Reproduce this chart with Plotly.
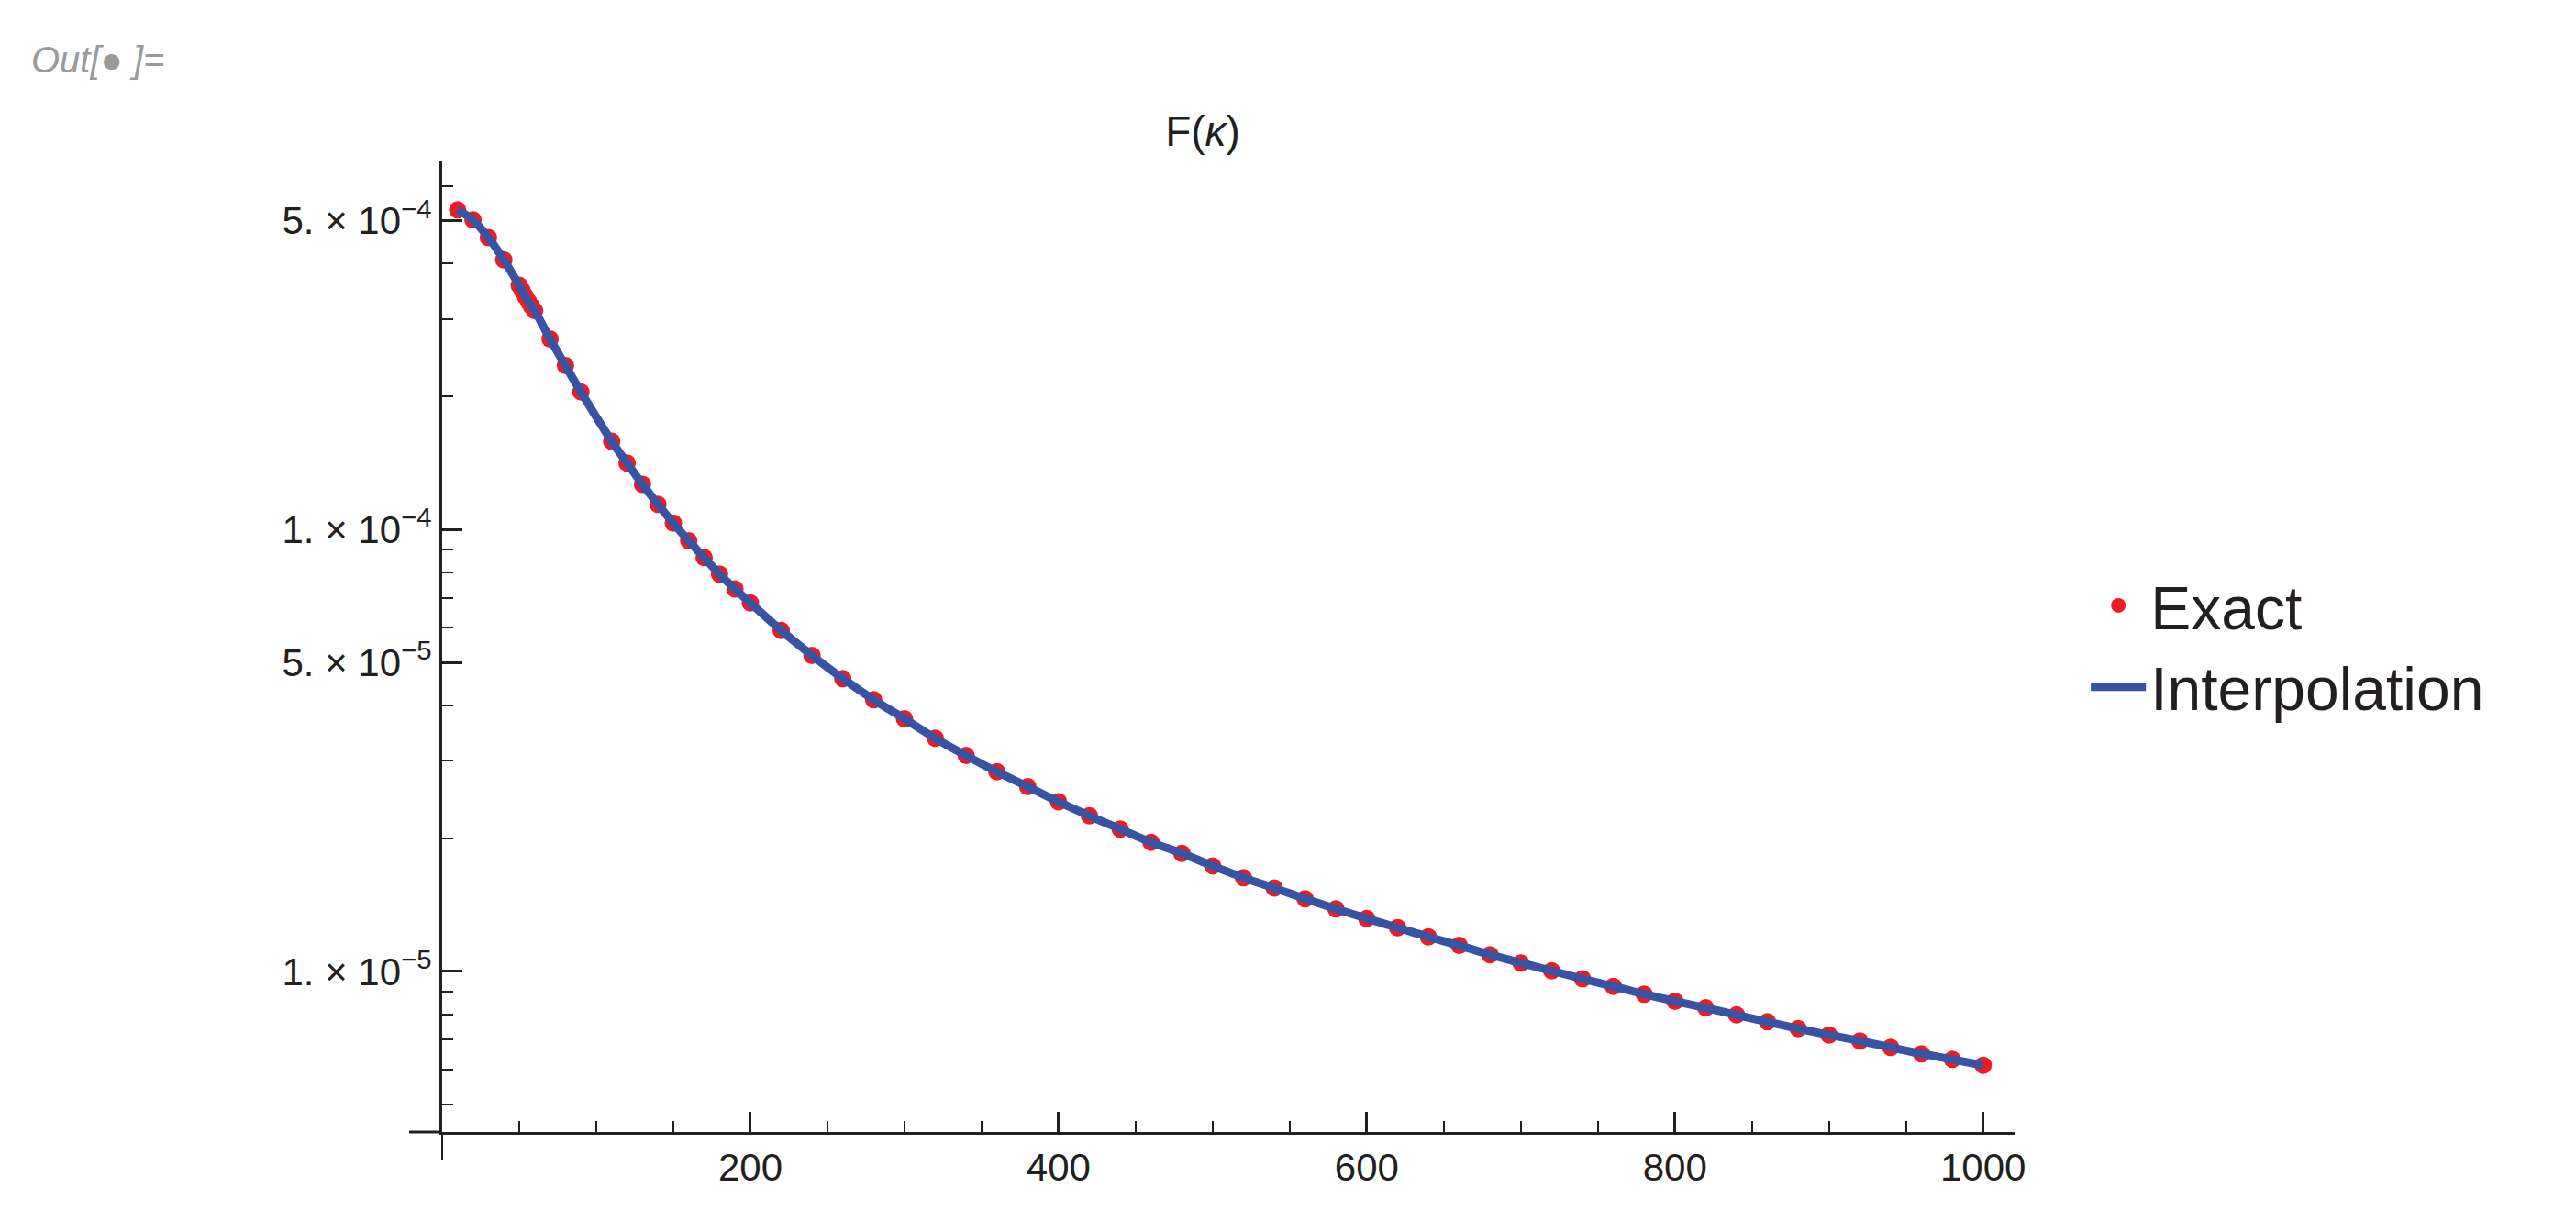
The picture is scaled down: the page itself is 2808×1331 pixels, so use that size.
import plotly.graph_objects as go

kappa = [10, 20, 30, 40, 50, 52, 54, 56, 58, 60, 70, 80, 90, 110, 120, 130, 140, 150, 160, 170, 180, 190,
         200, 220, 240, 260, 280, 300, 320, 340, 360, 380, 400, 420, 440, 460, 480, 500, 520, 540, 560, 580,
         600, 620, 640, 660, 680, 700, 720, 740, 760, 780, 800, 820, 840, 860, 880, 900, 920, 940, 960, 980, 1000]
F_exact = [5.29e-4, 5.02e-4, 4.58e-4, 4.08e-4, 3.57e-4, 3.47e-4, 3.37e-4, 3.28e-4, 3.20e-4, 3.13e-4,
           2.70e-4, 2.35e-4, 2.05e-4, 1.585e-4, 1.415e-4, 1.266e-4, 1.141e-4, 1.034e-4, 9.43e-5, 8.64e-5,
           7.93e-5, 7.34e-5,
           6.82e-5, 5.91e-5, 5.19e-5, 4.60e-5, 4.12e-5, 3.73e-5, 3.37e-5, 3.08e-5, 2.83e-5, 2.62e-5,
           2.42e-5, 2.25e-5, 2.10e-5, 1.96e-5, 1.85e-5, 1.733e-5, 1.63e-5, 1.544e-5, 1.46e-5, 1.385e-5,
           1.317e-5, 1.256e-5, 1.197e-5, 1.145e-5, 1.091e-5, 1.045e-5, 1.003e-5, 9.62e-6, 9.25e-6, 8.88e-6,
           8.56e-6, 8.27e-6, 7.97e-6, 7.69e-6, 7.42e-6, 7.18e-6, 6.96e-6, 6.73e-6, 6.51e-6, 6.32e-6, 6.13e-6]

y_major = [5e-4, 1e-4, 5e-5, 1e-5]
y_major_text = ["5. × 10<sup>−4</sup>", "1. × 10<sup>−4</sup>", "5. × 10<sup>−5</sup>", "1. × 10<sup>−5</sup>"]
y_minor = [6e-4, 4e-4, 3e-4, 2e-4, 9e-5, 8e-5, 7e-5, 6e-5, 4e-5, 3e-5, 2e-5, 9e-6, 8e-6, 7e-6, 6e-6, 5e-6]
x_major = [200, 400, 600, 800, 1000]
x_minor = [50, 100, 150, 250, 300, 350, 450, 500, 550, 650, 700, 750, 850, 900, 950]

RED = "#ED1C24"
BLUE = "#3953A4"
FONT = "Liberation Sans"

fig = go.Figure()
fig.add_trace(go.Scatter(x=kappa, y=F_exact, mode="markers", name="Exact",
                         marker=dict(color=RED, size=19)))
fig.add_trace(go.Scatter(x=kappa, y=F_exact, mode="lines", name="Interpolation",
                         line=dict(color=BLUE, width=9, shape="spline")))

fig.update_layout(
    width=2808, height=1331,
    paper_bgcolor="white", plot_bgcolor="white",
    margin=dict(l=474, r=619, t=167, b=105),
    font=dict(family=FONT, color="#231F20"),
    title=dict(text="F(<i>κ</i>)", x=1303 / 2808, xanchor="center", y=1 - 135 / 1331, yanchor="middle",
               font=dict(size=46, family=FONT, color="#231F20")),
    legend=dict(x=1.045, y=0.50, xanchor="left", yanchor="middle", font=dict(size=66, family=FONT),
                tracegroupgap=100, itemwidth=60, bgcolor="rgba(0,0,0,0)"),
    xaxis=dict(range=[0, 1021], showgrid=False, zeroline=False, showline=True, linecolor="#231F20",
               linewidth=3, ticks="inside", ticklen=22, tickwidth=3, tickcolor="#231F20",
               tickvals=x_major, ticktext=[str(v) for v in x_major],
               tickfont=dict(size=42, family=FONT, color="#231F20"),
               minor=dict(tickvals=x_minor, ticks="inside", ticklen=12, tickwidth=2, tickcolor="#231F20")),
    yaxis=dict(type="log", range=[-5.3636, -3.1647], showgrid=False, zeroline=False, showline=True,
               linecolor="#231F20", linewidth=3, ticks="inside", ticklen=22, tickwidth=3, tickcolor="#231F20",
               tickvals=y_major, ticktext=y_major_text,
               tickfont=dict(size=42, family=FONT, color="#231F20"),
               minor=dict(tickvals=y_minor, ticks="inside", ticklen=12, tickwidth=2, tickcolor="#231F20")),
    shapes=[
        dict(type="line", xref="paper", yref="paper", x0=-36 / 1715, x1=0, y0=0, y1=0,
             line=dict(color="#231F20", width=3)),
        dict(type="line", xref="paper", yref="paper", x0=0, x1=0, y0=-30 / 1059, y1=0,
             line=dict(color="#231F20", width=2)),
    ],
    annotations=[
        dict(text="<i>Out[</i>●<i> ]=</i>", xref="paper", yref="paper", x=-450 / 1715, y=1 + 110 / 1059,
             xanchor="left", yanchor="middle", showarrow=False,
             font=dict(size=40, family=FONT, color="#9A9A9A")),
    ],
)

fig.write_html("out.html")
